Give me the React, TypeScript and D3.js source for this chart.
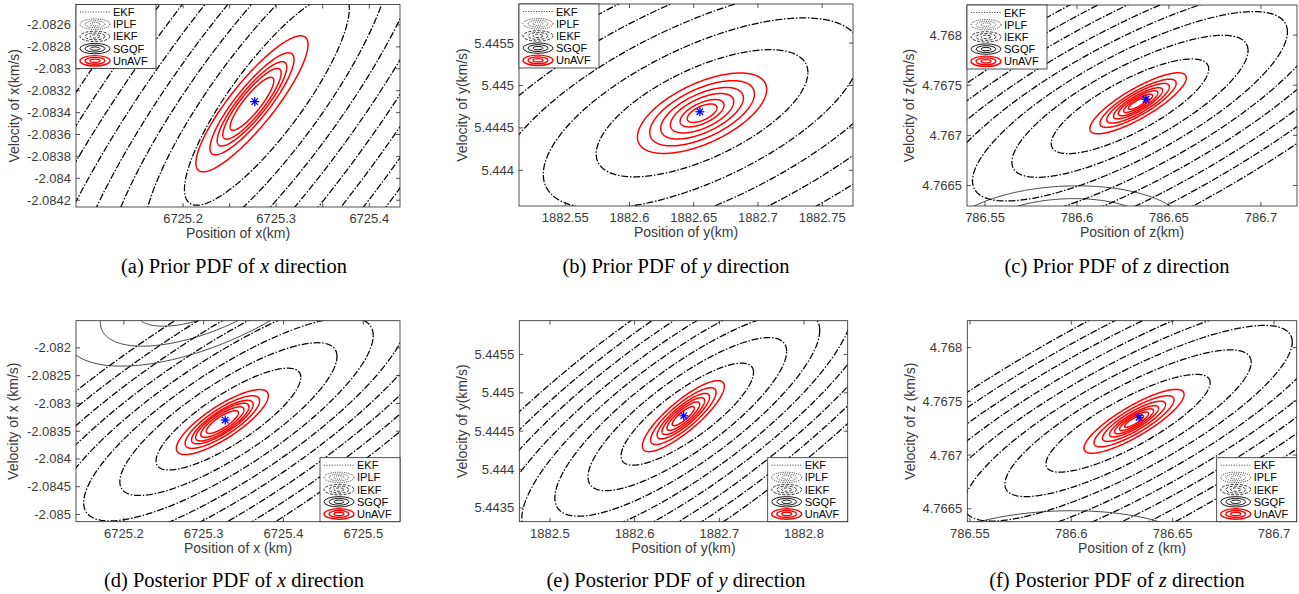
import React from 'react';
import * as d3 from 'd3';

// ---- data ----
const panelTags = ['a', 'b', 'c', 'd', 'e', 'f'];
const captionStage = ['Prior', 'Prior', 'Prior', 'Posterior', 'Posterior', 'Posterior'];
const captionAxis = ['x', 'y', 'z', 'x', 'y', 'z'];
const xTitles = ['Position of x(km)', 'Position of y(km)', 'Position of z(km)', 'Position of x (km)', 'Position of y(km)', 'Position of z (km)'];
const yTitles = ['Velocity of x(km/s)', 'Velocity of y(km/s)', 'Velocity of z(km/s)', 'Velocity of x (km/s)', 'Velocity of y(km/s)', 'Velocity of z (km/s)'];

const xDomains = [
  [6725.085, 6725.433], [1882.514, 1882.774], [786.5402, 786.7196],
  [6725.14, 6725.546], [1882.4638, 1882.8516], [786.5487, 786.7112],
];
const yDomains = [
  [-2.084262, -2.082413], [5.44358, 5.44596], [4.766296, 4.7683],
  [-2.08513, -2.08151], [5.44332, 5.44594], [4.76638, 4.76825],
];

const xTicks = [
  [6725.2, 6725.25, 6725.3, 6725.35, 6725.4],
  [1882.55, 1882.6, 1882.65, 1882.7, 1882.75],
  [786.55, 786.6, 786.65, 786.7],
  [6725.2, 6725.3, 6725.4, 6725.5],
  [1882.5, 1882.6, 1882.7, 1882.8],
  [786.55, 786.6, 786.65, 786.7],
];
const xTickLabels = [
  ['6725.2', '', '6725.3', '', '6725.4'],
  ['1882.55', '1882.6', '1882.65', '1882.7', '1882.75'],
  ['786.55', '786.6', '786.65', '786.7'],
  ['6725.2', '6725.3', '6725.4', '6725.5'],
  ['1882.5', '1882.6', '1882.7', '1882.8'],
  ['786.55', '786.6', '786.65', '786.7'],
];
const yTicks = [
  [-2.0842, -2.084, -2.0838, -2.0836, -2.0834, -2.0832, -2.083, -2.0828, -2.0826],
  [5.444, 5.4445, 5.445, 5.4455],
  [4.7665, 4.767, 4.7675, 4.768],
  [-2.085, -2.0845, -2.084, -2.0835, -2.083, -2.0825, -2.082],
  [5.4435, 5.444, 5.4445, 5.445, 5.4455],
  [4.7665, 4.767, 4.7675, 4.768],
];

// true state (blue star)
const truthPoints = [
  [6725.277, -2.0833], [1882.6548, 5.44469], [786.6375, 4.76736],
  [6725.327, -2.0833], [1882.658, 5.4447], [786.6334, 4.76735],
];

// UnAVF (red) gaussian: mean, std (x, v), correlation, contour radii
const unavfMean = [
  [6725.274, -2.08332], [1882.6565, 5.444673], [786.6332, 4.76732],
  [6725.3234, -2.083336], [1882.6575, 5.444696], [786.63095, 4.767314],
];
const unavfStd = [
  [0.0602, 0.000621], [0.0503, 0.000474], [0.0262, 0.000304],
  [0.0576, 0.000585], [0.0484, 0.000463], [0.02468, 0.000297],
];
const unavfRho = [0.87, 0.59, 0.83, 0.81, 0.84, 0.84];
const unavfLevels = [
  [1, 0.75, 0.62, 0.52, 0.39],
  [1, 0.81, 0.64, 0.49, 0.34, 0.23],
  [1, 0.79, 0.65, 0.51, 0.41, 0.3, 0.2],
  [1, 0.81, 0.67, 0.58, 0.47, 0.35],
  [1, 0.8, 0.64, 0.52, 0.4, 0.27],
  [1, 0.8, 0.63, 0.49, 0.39, 0.29, 0.19],
];

// EKF / IPLF / IEKF (black, overlapping) gaussian
const iekfMean = [
  [6725.29, -2.083276], [1882.6565, 5.444673], [786.6288, 4.76729],
  [6725.331, -2.083282], [1882.6622, 5.444722], [786.628, 4.767296],
];
const iekfStd = [
  [0.0885, 0.00097], [0.0824, 0.000749], [0.0428, 0.000472],
  [0.0907, 0.000917], [0.0782, 0.000665], [0.0405, 0.000455],
];
const iekfRho = [0.85, 0.64, 0.786, 0.82, 0.82, 0.83];
const iekfLevels = [1, 1.5, 2, 2.5, 3, 3.5, 4, 4.5];

// SGQF (thin solid) gaussian, only partly inside some panels
const sgqfMean = [null, null, [786.5935, 4.766007], [6725.302, -2.08089], null, [786.5934, 4.766027]];
const sgqfStd = [null, null, [0.0663, 0.00049], [0.0877, 0.000719], null, [0.0706, 0.000455]];
const sgqfRho = [0, 0, 0.1, 0.6, 0, 0.1];
const sgqfLevels = [[], [], [1, 0.74], [1, 1.5, 2], [], [1]];

const legendNames = ['EKF', 'IPLF', 'IEKF', 'SGQF', 'UnAVF'];

// ---- layout ----
const W = 1299;
const H = 594;
const plotBoxes = [
  [76, 4.5, 400, 207], [519, 4, 853, 206], [967, 5, 1297, 206],
  [76, 320.7, 400, 521.7], [519.3, 320.7, 847.7, 521.7], [967.3, 320.7, 1296.7, 521.7],
];
const yTitleX = [14, 462, 909, 13, 462, 910];
const captionX = [234, 676, 1117, 234, 676, 1117];
const AX = '#262626';
const TXT = '#3a3a3a';
const SANS = 'Liberation Sans, Arial, sans-serif';

function gaussPath(x, y, mean, std, rho, L) {
  const k = Math.sqrt(1 - rho * rho);
  const pts = d3.range(0, 241).map(i => {
    const t = (i / 240) * 2 * Math.PI;
    return [mean[0] + L * std[0] * Math.cos(t), mean[1] + L * std[1] * (rho * Math.cos(t) + k * Math.sin(t))];
  });
  return d3.line().x(p => x(p[0])).y(p => y(p[1]))(pts) + 'Z';
}

function Legend({ lx, ly }) {
  const w = 80;
  const h = 64;
  const icon = (i, cy) => {
    const cx = lx + 19;
    const radii = [1, 0.66, 0.33];
    if (i === 0) {
      return <line x1={lx + 4} x2={lx + 34} y1={cy} y2={cy} stroke="#000" strokeWidth={0.8} strokeDasharray="1 1.6" />;
    }
    const style = [
      null,
      { stroke: '#000', dash: '1 1.2', w: 0.8 },
      { stroke: '#000', dash: '3 1.5', w: 0.8 },
      { stroke: '#000', dash: null, w: 0.9 },
      { stroke: '#ff0000', dash: null, w: 1.4 },
    ][i];
    return radii.map((r, j) => (
      <ellipse key={j} cx={cx} cy={cy} rx={15 * r} ry={5.2 * r} fill="none"
        stroke={style.stroke} strokeWidth={style.w} strokeDasharray={style.dash || undefined} />
    ));
  };
  return (
    <g>
      <rect x={lx} y={ly} width={w} height={h} fill="#fff" stroke={AX} strokeWidth={0.8} />
      {legendNames.map((n, i) => {
        const cy = ly + 7.5 + i * 12.2;
        return (
          <g key={n}>
            {icon(i, cy)}
            <text x={lx + 37} y={cy + 4} fontSize={11} fontFamily={SANS} fill="#000">{n}</text>
          </g>
        );
      })}
    </g>
  );
}

function Panel({ i }) {
  const [x0, y0, x1, y1] = plotBoxes[i];
  const x = d3.scaleLinear().domain(xDomains[i]).range([x0, x1]);
  const y = d3.scaleLinear().domain(yDomains[i]).range([y1, y0]);
  const clipId = `clip-${panelTags[i]}`;
  const top = i < 3;
  const tickLen = 4;
  const [sx, sy] = truthPoints[i];
  const px = x(sx);
  const py = y(sy);
  const r = 4.5;
  return (
    <g>
      <defs>
        <clipPath id={clipId}>
          <rect x={x0} y={y0} width={x1 - x0} height={y1 - y0} />
        </clipPath>
      </defs>
      <rect x={x0} y={y0} width={x1 - x0} height={y1 - y0} fill="#fff" />
      <g clipPath={`url(#${clipId})`}>
        {sgqfMean[i] && sgqfLevels[i].map((L, j) => (
          <path key={'s' + j} d={gaussPath(x, y, sgqfMean[i], sgqfStd[i], sgqfRho[i], L)}
            fill="none" stroke="#333" strokeWidth={0.9} />
        ))}
        {iekfLevels.map((L, j) => {
          const d = gaussPath(x, y, iekfMean[i], iekfStd[i], iekfRho[i], L);
          return (
            <g key={'k' + j}>
              <path d={d} fill="none" stroke="#000" strokeWidth={1.25} strokeDasharray="7 5" />
              <path d={d} fill="none" stroke="#000" strokeWidth={1.25} strokeDasharray="1.5 10.5" strokeDashoffset={-8.8} />
            </g>
          );
        })}
        {unavfLevels[i].map((L, j) => (
          <path key={'u' + j} d={gaussPath(x, y, unavfMean[i], unavfStd[i], unavfRho[i], L)}
            fill="none" stroke="#ff0000" strokeWidth={1.5} />
        ))}
      </g>
      <g stroke="#0000ff" strokeWidth={1.3}>
        <line x1={px - r} x2={px + r} y1={py} y2={py} />
        <line x1={px} x2={px} y1={py - r} y2={py + r} />
        <line x1={px - r * 0.72} x2={px + r * 0.72} y1={py - r * 0.72} y2={py + r * 0.72} />
        <line x1={px - r * 0.72} x2={px + r * 0.72} y1={py + r * 0.72} y2={py - r * 0.72} />
      </g>
      <rect x={x0} y={y0} width={x1 - x0} height={y1 - y0} fill="none" stroke={AX} strokeWidth={0.8} />
      {xTicks[i].map((t, j) => (
        <g key={'xt' + j}>
          <line x1={x(t)} x2={x(t)} y1={y1} y2={y1 - tickLen} stroke={AX} strokeWidth={0.8} />
          <line x1={x(t)} x2={x(t)} y1={y0} y2={y0 + tickLen} stroke={AX} strokeWidth={0.8} />
          <text x={x(t)} y={y1 + 16} textAnchor="middle" fontSize={13} fontFamily={SANS} fill={TXT}>{xTickLabels[i][j]}</text>
        </g>
      ))}
      {yTicks[i].map((t, j) => (
        <g key={'yt' + j}>
          <line x1={x0} x2={x0 + tickLen} y1={y(t)} y2={y(t)} stroke={AX} strokeWidth={0.8} />
          <line x1={x1} x2={x1 - tickLen} y1={y(t)} y2={y(t)} stroke={AX} strokeWidth={0.8} />
          <text x={x0 - 5} y={y(t) + 4.5} textAnchor="end" fontSize={13} fontFamily={SANS} fill={TXT}>{String(t)}</text>
        </g>
      ))}
      <text x={(x0 + x1) / 2} y={y1 + 31} textAnchor="middle" fontSize={14} fontFamily={SANS} fill={TXT}>{xTitles[i]}</text>
      <text transform={`translate(${yTitleX[i]},${(y0 + y1) / 2}) rotate(-90)`} textAnchor="middle" dy="0.35em"
        fontSize={14} fontFamily={SANS} fill={TXT}>{yTitles[i]}</text>
      {top ? <Legend lx={x0} ly={y0} /> : <Legend lx={x1 - 80} ly={y1 - 64} />}
      <text x={captionX[i]} y={top ? 273 : 587} textAnchor="middle" fontSize={20.5}
        fontFamily="Liberation Serif, Times New Roman, serif" fill="#000">
        ({panelTags[i]}) {captionStage[i]} PDF of <tspan fontStyle="italic">{captionAxis[i]}</tspan> direction
      </text>
    </g>
  );
}

export default function App() {
  return (
    <div style={{ position: 'absolute', left: 0, top: 0 }}>
      <svg width={W} height={H} style={{ display: 'block', background: '#fff' }}>
        {panelTags.map((t, i) => <Panel key={t} i={i} />)}
      </svg>
    </div>
  );
}
